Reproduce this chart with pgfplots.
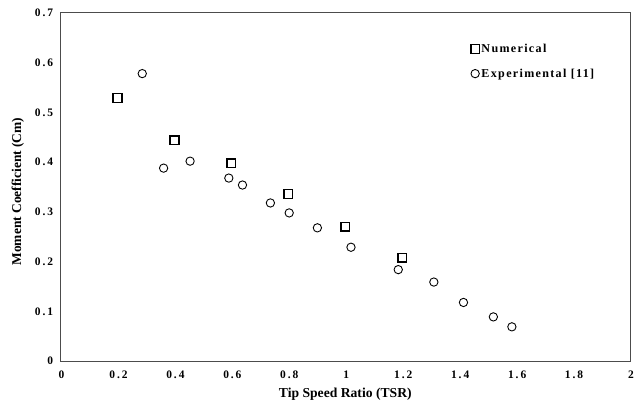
\documentclass[border=0pt]{standalone}
\usepackage{fontspec}
\setmainfont{Liberation Serif}
\newfontfamily\tickfont{Liberation Serif}[LetterSpace=17]
\newfontfamily\legfont{Liberation Serif}[LetterSpace=11]
\usepackage{pgfplots}
\pgfplotsset{compat=1.18}
\begin{document}
\begin{tikzpicture}
\begin{axis}[
  at={(0,0)}, anchor=south west,
  scale only axis,
  width=574bp, height=351bp,
  xmin=0, xmax=2, ymin=0, ymax=0.7,
  xtick={0,0.2,...,2.0},
  ytick={0,0.1,...,0.7},
  major tick length=0pt,
  axis line style={draw=black!70, line width=1pt},
  /pgf/number format/assume math mode=true,
  /pgf/number format/.cd, fixed, precision=1, /pgfplots/.cd,
  xticklabel style={font=\tickfont\fontsize{11.6}{13}\selectfont\bfseries, yshift=-6bp, xshift=1bp},
  yticklabel style={font=\tickfont\fontsize{11.6}{13}\selectfont\bfseries, xshift=-4bp},
  xlabel={Tip Speed Ratio (TSR)},
  ylabel={Moment Coefficient (Cm)},
  xlabel style={font=\fontsize{13.8}{16}\selectfont\bfseries, at={(axis description cs:0.5,0)}, anchor=center, yshift=-33bp},
  ylabel style={font=\fontsize{13.6}{16}\selectfont\bfseries, at={(axis description cs:0,0.487)}, anchor=center, yshift=43bp},
  legend style={draw=none, fill=none, at={(0.72,0.917)}, anchor=north west,
    font=\legfont\fontsize{12.2}{14}\selectfont\bfseries, row sep=11bp, inner sep=0pt},
  legend cell align=left,
  legend image code/.code={\draw[#1] plot coordinates {(6bp,0bp)};},
]
\addplot[only marks, mark=square, mark size=4.4bp, line width=1.5pt, black]
coordinates {
(0.2,0.529) (0.4,0.444) (0.6,0.398) (0.8,0.336) (1.0,0.270) (1.2,0.208)
};
\addlegendentry{Numerical}
\addplot[only marks, mark=o, mark size=4.2bp, line width=0.9pt, black]
coordinates {
(0.287,0.578) (0.362,0.388) (0.455,0.402) (0.591,0.368) (0.639,0.354)
(0.737,0.318) (0.803,0.298) (0.902,0.268) (1.020,0.229) (1.186,0.184)
(1.311,0.159) (1.415,0.118) (1.520,0.089) (1.585,0.069)
};
\addlegendentry{Experimental [11]}
\end{axis}
\pgfresetboundingbox
\path[use as bounding box] (-61bp,-43bp) rectangle (581bp,364bp);
\end{tikzpicture}
\end{document}
